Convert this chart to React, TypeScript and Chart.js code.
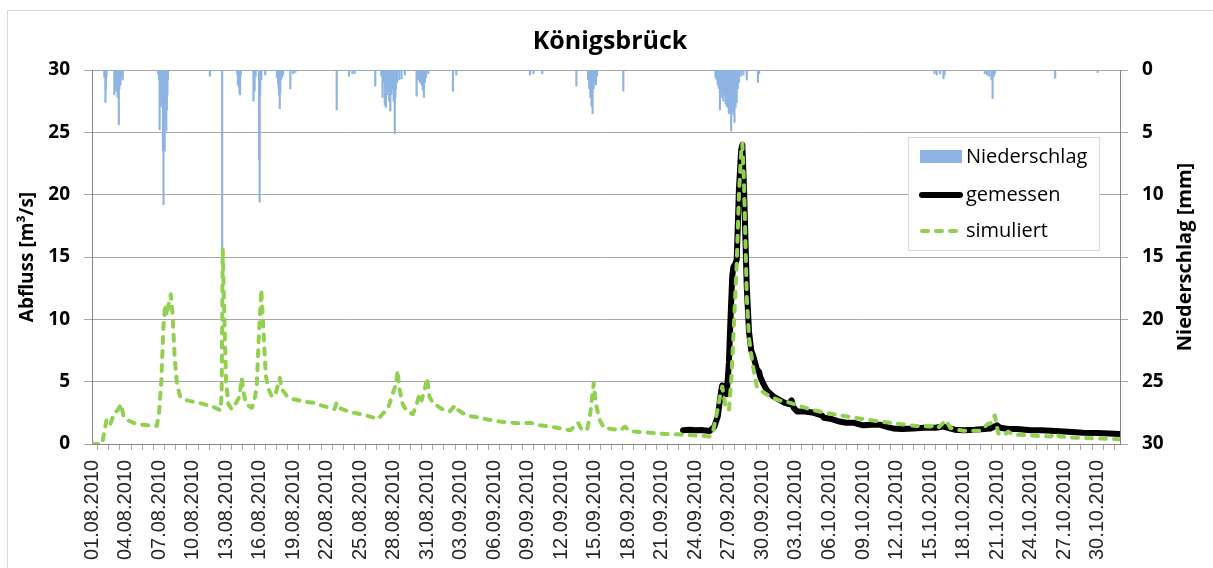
import React, { useEffect, useRef } from 'react';
import { Chart, registerables } from 'chart.js';
Chart.register(...registerables);

// x values are days since 01.08.2010 00:00
const xTickLabels = [
  '01.08.2010', '04.08.2010', '07.08.2010', '10.08.2010', '13.08.2010', '16.08.2010',
  '19.08.2010', '22.08.2010', '25.08.2010', '28.08.2010', '31.08.2010', '03.09.2010',
  '06.09.2010', '09.09.2010', '12.09.2010', '15.09.2010', '18.09.2010', '21.09.2010',
  '24.09.2010', '27.09.2010', '30.09.2010', '03.10.2010', '06.10.2010', '09.10.2010',
  '12.10.2010', '15.10.2010', '18.10.2010', '21.10.2010', '24.10.2010', '27.10.2010',
  '30.10.2010',
];

const simDays = [
  0, 0.9, 1.3, 1.6, 2.0, 2.3, 2.6, 2.8, 3.2, 4.0, 5.0, 5.8, 6.0, 6.2, 6.4, 6.55, 6.7, 6.9, 7.05, 7.2,
  7.4, 7.6, 7.9, 8.5, 9.0, 10.0, 10.8, 11.5, 11.6, 11.7, 11.85, 12.0, 12.2, 12.5, 12.9, 13.2, 13.4, 13.55,
  13.8, 14.3, 14.6, 14.75, 14.9, 15.15, 15.35, 15.55, 15.8, 16.1, 16.4, 16.8, 17.0, 17.4, 18.0, 19.0,
  19.8, 20.5, 21.3, 21.7, 21.9, 22.1, 23.0, 24.0, 24.9, 25.6, 26.0, 26.5, 26.9, 27.2, 27.35, 27.5, 27.8,
  28.2, 28.7, 29.0, 29.3, 29.5, 29.8, 30.0, 30.2, 30.5, 31.0, 31.5, 32.0, 32.5, 32.8, 33.5, 34.7, 35.5,
  36.5, 37.7, 38.5, 39.2, 40.1, 41.0, 42.0, 42.8, 43.3, 43.5, 43.8, 44.3, 44.6, 44.9, 45.1, 45.4, 45.8,
  46.5, 47.3, 47.7, 48.0, 48.5, 50.0, 51.4, 53.0, 54.5, 55.3, 55.6, 56.0, 56.2, 56.4, 56.7, 57.0, 57.2,
  57.4, 57.7, 57.9, 58.1, 58.2, 58.35, 58.6, 58.8, 59.1, 59.5, 60.0, 60.7, 61.5, 62.5, 63.5, 64.6, 66.0,
  67.6, 69.0, 70.5, 71.5, 72.8, 73.8, 75.0, 75.5, 75.8, 76.4, 76.8, 77.3, 78.0, 79.5, 80.1, 80.5, 80.8,
  81.1, 81.6, 82.0, 82.4, 83.4, 84.5, 85.8, 86.2, 86.6, 88.0, 90.0, 92.0,
];
const simFlow = [
  0, 0, 1.9, 1.5, 2.5, 2.7, 3.2, 2.3, 1.9, 1.6, 1.5, 1.45, 2.5, 5.0, 9.5, 11.2, 10.3, 11.4, 12.0, 10.5,
  7.0, 4.8, 3.8, 3.5, 3.4, 3.2, 3.0, 2.7, 4.0, 15.6, 10.0, 5.0, 3.2, 2.8, 3.3, 3.8, 5.3, 4.2,
  3.2, 2.9, 3.8, 4.8, 8.0, 12.4, 9.0, 5.5, 4.4, 3.8, 3.9, 5.3, 4.4, 3.9, 3.6, 3.4,
  3.3, 3.1, 2.9, 2.8, 3.3, 2.9, 2.6, 2.4, 2.2, 2.0, 2.4, 2.9, 4.0, 4.8, 5.9, 4.5, 3.2,
  2.6, 2.4, 3.0, 4.0, 3.5, 4.5, 5.3, 3.8, 3.3, 3.0, 2.7, 2.6, 3.1, 2.7, 2.3, 2.1, 1.95,
  1.8, 1.7, 1.65, 1.7, 1.5, 1.4, 1.25, 1.1, 1.5, 1.7, 1.2, 1.1, 2.5, 4.9, 3.2, 2.0, 1.3,
  1.2, 1.1, 1.4, 1.1, 1.0, 0.9, 0.8, 0.75, 0.65, 0.6, 1.1, 2.8, 3.8, 4.6, 3.0, 2.7, 5.0,
  8.6, 14.5, 20.0, 23.5, 24.1, 21.0, 11.8, 8.5, 6.5, 4.6, 4.2, 3.8, 3.5, 3.3, 3.0, 2.7, 2.45,
  2.2, 2.0, 1.8, 1.7, 1.55, 1.45, 1.4, 1.55, 1.35, 1.9, 1.3, 1.15, 1.07, 1.07, 1.55, 1.7, 2.3,
  0.86, 0.7, 1.0, 0.75, 0.72, 0.65, 0.6, 0.85, 0.6, 0.5, 0.45, 0.38,
];

const measDays = [
  52.9, 53.5, 54.0, 54.5, 55.3, 55.7, 56.0, 56.3, 56.4, 56.6, 56.8, 57.0, 57.1, 57.3, 57.4, 57.6, 57.7,
  57.9, 58.1, 58.2, 58.35, 58.6, 58.8, 59.0, 59.2, 59.5, 59.7, 59.8, 60.1, 60.4, 61.0, 61.6, 62.0, 62.4,
  62.6, 62.8, 63.1, 63.8, 64.6, 65.3, 65.5, 66.2, 66.9, 67.5, 68.2, 69.0, 69.8, 70.5, 71.2, 71.7, 72.5,
  73.5, 74.5, 75.5, 76.2, 76.6, 77.2, 78.0, 79.0, 80.4, 81.0, 81.3, 82.0, 82.8, 84.0, 85.0, 85.8, 87.0,
  88.7, 90.0, 91.0, 92.0,
];
const measFlow = [
  1.1, 1.15, 1.1, 1.12, 1.05, 1.4, 2.2, 4.2, 4.7, 4.3, 4.0, 6.5, 9.1, 13.5, 14.2, 14.5, 14.8,
  20.5, 23.6, 24.0, 20.5, 12.6, 9.0, 7.5, 7.0, 6.0, 5.8, 5.4, 4.8, 4.3, 3.8, 3.5, 3.3, 3.2,
  3.5, 2.9, 2.6, 2.6, 2.5, 2.3, 2.1, 2.0, 1.8, 1.7, 1.7, 1.5, 1.55, 1.55, 1.35, 1.25, 1.2,
  1.25, 1.3, 1.3, 1.4, 1.3, 1.15, 1.1, 1.15, 1.25, 1.5, 1.3, 1.2, 1.2, 1.1, 1.1, 1.07, 1.0,
  0.9, 0.88, 0.85, 0.8,
];

const rainDays = [
  1.1, 1.2, 1.25, 1.3, 2.0, 2.05, 2.15, 2.2, 2.3, 2.4, 2.45, 2.55, 2.65, 2.75,
  5.9, 6.0, 6.05, 6.1, 6.15, 6.2, 6.25, 6.3, 6.35, 6.4, 6.45, 6.5, 6.55, 6.6, 6.65, 6.7, 6.75, 6.8,
  10.55, 11.65, 13.0, 13.05, 13.1, 13.15, 13.2, 13.25, 13.3,
  14.45, 14.5, 14.55, 14.65, 14.95, 15.0, 15.05, 15.15, 15.5,
  16.55, 16.65, 16.7, 16.75, 16.8, 16.85, 16.9, 17.0, 17.1, 17.75, 18.0, 18.2,
  21.9, 23.0, 23.3, 23.5,
  25.35, 25.9, 26.0, 26.1, 26.2, 26.3, 26.4, 26.5, 26.6, 26.7, 26.8, 26.9, 27.0, 27.1, 27.15, 27.2, 27.3,
  27.5, 27.7, 28.0, 29.05, 29.2, 29.35, 29.5, 29.6, 29.7, 29.8, 29.9, 30.1, 32.3, 32.6,
  39.2, 39.5, 40.3, 43.35, 44.4, 44.5, 44.6, 44.7, 44.8, 44.9, 45.0, 45.1, 45.2, 47.55,
  55.8, 55.9, 56.0, 56.1, 56.2, 56.3, 56.4, 56.5, 56.6, 56.7, 56.8, 56.9, 57.0, 57.1, 57.2, 57.3, 57.4,
  57.5, 57.6, 57.7, 57.8, 57.9, 58.1, 58.3, 58.6, 59.6, 59.7,
  75.4, 75.6, 75.9, 76.2, 76.3, 79.9, 80.1, 80.3, 80.5, 80.6, 80.7, 80.8, 86.2, 90.0,
];
const rainMm = [
  0.6, 2.6, 1.5, 0.5, 2.0, 1.2, 1.7, 1.0, 2.2, 4.4, 1.5, 1.2, 0.6, 0.8,
  0.3, 0.8, 4.8, 1.5, 2.3, 2.9, 2.0, 3.0, 6.5, 10.8, 5.5, 6.5, 4.2, 3.5, 4.9, 3.2, 2.0, 0.8,
  0.5, 14.4, 0.3, 1.2, 0.8, 1.4, 1.9, 2.0, 0.5,
  2.5, 1.2, 1.7, 0.5, 7.2, 10.6, 2.0, 0.8, 0.4,
  0.6, 1.1, 1.5, 2.0, 3.1, 1.8, 0.8, 0.6, 0.4, 1.5, 0.3, 0.2,
  3.2, 0.5, 0.3, 0.3,
  1.3, 0.5, 2.2, 1.0, 2.8, 3.0, 1.5, 2.0, 2.5, 3.3, 2.0, 1.5, 2.5, 5.1, 2.2, 1.5, 1.0,
  0.8, 0.7, 0.4, 2.1, 0.8, 1.0, 1.2, 1.6, 2.2, 1.0, 0.6, 0.3, 1.7, 0.4,
  0.4, 0.3, 0.3, 1.3, 0.8, 1.5, 2.2, 2.9, 3.5, 1.5, 1.0, 1.2, 0.5, 1.7,
  0.6, 0.8, 1.2, 1.5, 3.2, 1.8, 2.2, 2.5, 2.0, 2.7, 2.9, 3.0, 3.5, 3.0, 4.9, 3.3, 3.6,
  4.2, 3.0, 2.6, 1.5, 1.0, 0.5, 0.4, 0.8, 1.0, 0.3,
  0.3, 0.4, 0.3, 0.7, 0.4, 0.3, 0.4, 0.5, 0.8, 2.3, 0.5, 0.3, 0.65, 0.2,
];

const seriesNames = ['Niederschlag', 'gemessen', 'simuliert'];
const chartTitle = 'Königsbrück';
const leftTitle = 'Abfluss [m³/s]';
const rightTitle = 'Niederschlag [mm]';

const RAIN = '#8db4e2';
const SIM = '#92d050';
const MEAS = '#000000';

const decor = {
  id: 'decor',
  beforeDraw(chart: any) {
    const c = chart.ctx;
    c.save();
    c.fillStyle = '#ffffff';
    c.fillRect(0, 0, chart.width, chart.height);
    c.strokeStyle = '#d9d9d9';
    c.lineWidth = 1;
    c.strokeRect(7.5, 10.5, 1300, 700);
    c.restore();
  },
  afterDraw(chart: any) {
    const c = chart.ctx;
    const a = chart.chartArea;
    const midY = (a.top + a.bottom) / 2;
    c.save();
    c.fillStyle = '#000';
    c.textAlign = 'center';
    c.textBaseline = 'middle';
    c.font = 'bold 25px "Open Sans"';
    c.fillText(chartTitle, 610, 42);

    c.font = 'bold 19px "Open Sans"';
    c.save();
    c.translate(28, midY);
    c.rotate(-Math.PI / 2);
    c.fillText(leftTitle, 0, 0);
    c.restore();
    c.font = 'bold 20px "Open Sans"';
    c.save();
    c.translate(1185, midY);
    c.rotate(-Math.PI / 2);
    c.fillText(rightTitle, 0, 0);
    c.restore();

    // legend
    c.fillStyle = '#ffffff';
    c.fillRect(908, 137, 192, 114);
    c.strokeStyle = '#d9d9d9';
    c.lineWidth = 1;
    c.strokeRect(908.5, 137.5, 191, 113);
    c.fillStyle = RAIN;
    c.fillRect(920, 150, 42, 13);
    c.lineCap = 'round';
    c.strokeStyle = MEAS;
    c.lineWidth = 6;
    c.beginPath();
    c.moveTo(922, 195);
    c.lineTo(960, 195);
    c.stroke();
    c.strokeStyle = SIM;
    c.lineWidth = 4;
    c.setLineDash([6, 8]);
    c.beginPath();
    c.moveTo(922, 231);
    c.lineTo(962, 231);
    c.stroke();
    c.setLineDash([]);
    c.fillStyle = '#000';
    c.textAlign = 'left';
    c.font = '20px "Open Sans"';
    c.fillText(seriesNames[0], 966, 157);
    c.fillText(seriesNames[1], 966, 195);
    c.fillText(seriesNames[2], 966, 231);
    c.restore();
  },
};

export default function App() {
  const ref = useRef<HTMLCanvasElement | null>(null);
  useEffect(() => {
    if (!ref.current) return;
    const chart = new Chart(ref.current, {
      type: 'line',
      data: {
        datasets: [
          {
            type: 'line',
            label: seriesNames[2],
            data: simDays.map((x, i) => ({ x, y: simFlow[i] })),
            borderColor: SIM,
            borderWidth: 4,
            borderDash: [6, 8],
            borderCapStyle: 'round',
            borderJoinStyle: 'round',
            pointRadius: 0,
            tension: 0,
            yAxisID: 'yQ',
            order: 0,
          },
          {
            type: 'line',
            label: seriesNames[1],
            data: measDays.map((x, i) => ({ x, y: measFlow[i] })),
            borderColor: MEAS,
            borderWidth: 6,
            borderCapStyle: 'round',
            borderJoinStyle: 'round',
            pointRadius: 0,
            tension: 0,
            yAxisID: 'yQ',
            order: 1,
          },
          {
            type: 'bar',
            label: seriesNames[0],
            data: rainDays.map((x, i) => ({ x, y: rainMm[i] })),
            backgroundColor: RAIN,
            borderWidth: 0,
            barThickness: 1.5,
            yAxisID: 'yP',
            order: 2,
          } as any,
        ],
      },
      options: {
        animation: false,
        responsive: true,
        maintainAspectRatio: false,
        layout: { padding: { top: 70, left: 0, right: 0, bottom: 0 } },
        plugins: { legend: { display: false }, tooltip: { enabled: false }, title: { display: false } },
        scales: {
          x: {
            type: 'linear',
            min: 0,
            max: 92,
            offset: false,
            afterFit: (s: any) => { s.height = 124; },
            ticks: {
              stepSize: 1,
              autoSkip: false,
              minRotation: 90,
              maxRotation: 90,
              padding: 10,
              color: '#262626',
              font: { family: '"Liberation Sans"', size: 20 },
              callback: (v: any) => {
                const n = Number(v);
                return Number.isInteger(n) && n % 3 === 0 && n / 3 < xTickLabels.length ? xTickLabels[n / 3] : '';
              },
            },
            grid: { drawOnChartArea: false, tickLength: 6, color: '#a6a6a6' },
            border: { color: '#868686' },
          },
          yQ: {
            type: 'linear',
            position: 'left',
            min: 0,
            max: 30,
            afterFit: (s: any) => { s.width = 92; },
            ticks: { stepSize: 5, padding: 14, color: '#000', font: { family: '"Open Sans"', weight: 'bold', size: 19 } },
            grid: { color: '#a6a6a6', tickLength: 8 },
            border: { color: '#868686' },
          },
          yP: {
            type: 'linear',
            position: 'right',
            reverse: true,
            min: 0,
            max: 30,
            afterFit: (s: any) => { s.width = 93; },
            ticks: { stepSize: 5, padding: 14, color: '#000', font: { family: '"Open Sans"', weight: 'bold', size: 19 } },
            grid: { drawOnChartArea: false, color: '#a6a6a6', tickLength: 8 },
            border: { color: '#868686' },
          },
        },
      } as any,
      plugins: [decor],
    });
    return () => chart.destroy();
  }, []);
  return (
    <div style={{ position: 'absolute', left: 0, top: 0, width: 1213, height: 568 }}>
      <canvas ref={ref} />
    </div>
  );
}
